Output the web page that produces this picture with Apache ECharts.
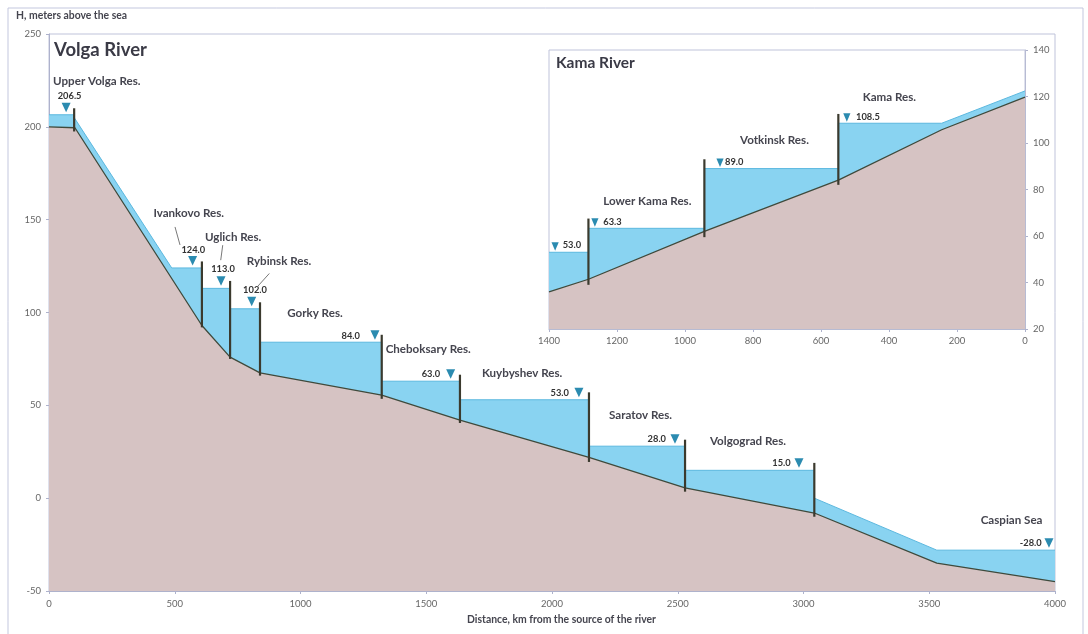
<!DOCTYPE html>
<html>
<head>
<meta charset="utf-8">
<script src="https://cdn.jsdelivr.net/npm/echarts/dist/echarts.min.js"></script>
<style>
  html, body { margin: 0; padding: 0; background: #fff; }
  #chart { width: 1088px; height: 634px; }
</style>
</head>
<body>
<div id="chart"></div>
<script>
// ---------------- DATA ----------------
// Volga river (km from source, m above sea)
const volgaBedKm   = [0, 103, 608, 720, 839, 1323, 1634, 2147, 2529, 3043, 3530, 4000];
const volgaBedH    = [200, 199.5, 93, 76, 67.5, 55.5, 42, 22, 5.5, -8, -35, -45];
const volgaWaterKm = [0, 100, 100, 488, 608, 608, 720, 720, 839, 839, 1323, 1323, 1634, 1634, 2147, 2147, 2529, 2529, 3043, 3043, 3530, 4000];
const volgaWaterH  = [206.5, 206.5, 205, 124, 124, 113, 113, 102, 102, 84, 84, 63, 63, 53, 53, 28, 28, 15, 15, 0, -28, -28];
const volgaDamKm   = [100, 608, 720, 839, 1323, 1634, 2147, 2529, 3043];
const volgaDamLow  = [197.5, 92, 75, 66, 53.5, 40.5, 19.5, 3.5, -10];
const volgaDamHigh = [210, 127.5, 117, 105.5, 88, 66.5, 57, 31.5, 19];
const volgaResNames  = ['Upper Volga Res.', 'Ivankovo Res.', 'Uglich Res.', 'Rybinsk Res.', 'Gorky Res.',
                        'Cheboksary Res.', 'Kuybyshev Res.', 'Saratov Res.', 'Volgograd Res.', 'Caspian Sea'];
const volgaResLevels = [206.5, 124.0, 113.0, 102.0, 84.0, 63.0, 53.0, 28.0, 15.0, -28.0];
const volgaMarkKm    = [68, 571, 684, 806, 1296, 1597, 2107, 2489, 2982, 3976];
const volgaXTicks = [0, 500, 1000, 1500, 2000, 2500, 3000, 3500, 4000];
const volgaYTicks = [-50, 0, 50, 100, 150, 200, 250];

// Kama river (km from mouth, m above sea)
const kamaBedKm   = [1400, 1284, 943, 549, 245, 0];
const kamaBedH    = [36, 41.4, 62, 84, 105.7, 119.7];
const kamaWaterKm = [1400, 1284, 1284, 943, 943, 549, 549, 245, 0];
const kamaWaterH  = [53, 53, 63.3, 63.3, 89, 89, 108.5, 108.5, 122.4];
const kamaDamKm   = [1284, 943, 549];
const kamaDamLow  = [39, 59.5, 82];
const kamaDamHigh = [67.5, 93, 112.5];
const kamaResNames  = ['', 'Lower Kama Res.', 'Votkinsk Res.', 'Kama Res.'];
const kamaResLevels = [53.0, 63.3, 89.0, 108.5];
const kamaMarkKm    = [1382, 1265, 897, 524];
const kamaXTicks = [0, 200, 400, 600, 800, 1000, 1200, 1400];
const kamaYTicks = [20, 40, 60, 80, 100, 120, 140];

// ---------------- LAYOUT / STYLE ----------------
const FONT = 'Lato, "Open Sans", sans-serif';
const C = {
  water: '#89d3f1', waterLine: '#5bb8df', bed: '#d6c3c3', bedLine: '#3f4a3c',
  dam: '#3b3a2e', marker: '#2b8bb0', text: '#45454f', value: '#333', axis: '#aeb2cc', tick: '#666'
};
// label offsets (px) relative to the water level point under each marker
const volgaLabelLayout = [
  { v: [3.5, -18.5, 'center'], n: [-13, -34, 'left'] },
  { v: [0.7, -17.7, 'center'], n: [-3.9, -54.4, 'center'], lead: [-17.6, -41, -12.6, -23] },
  { v: [2, -19.2, 'center'],   n: [-16, -51.5, 'left'],    lead: [1.7, -43.2, -0.3, -28.2] },
  { v: [3.3, -18.6, 'center'], n: [-5, -47.9, 'left'],     lead: [17.6, -35.3, 5.6, -22] },
  { v: [-15, -6.3, 'right'],   n: [-60, -28.7, 'center'] },
  { v: [-10.6, -7.7, 'right'], n: [-65, -31.7, 'left'] },
  { v: [-10, -6.9, 'right'],   n: [-97, -26.9, 'left'] },
  { v: [-9, -6.7, 'right'],    n: [-66, -31, 'left'] },
  { v: [-8.3, -7.3, 'right'],  n: [-89, -29, 'left'] },
  { v: [-7.3, -7.3, 'right'],  n: [-68.3, -30, 'left'] }
];
const kamaLabelLayout = [
  { v: [7.6, -7.3, 'left'] },
  { v: [8.4, -6.6, 'left'], n: [8.4, -27.3, 'left'] },
  { v: [5, -6.3, 'left'],   n: [20, -28.6, 'left'] },
  { v: [9.2, -6, 'left'],   n: [15.9, -25.5, 'left'] }
];

const zip = (a, b) => a.map((v, i) => [v, b[i]]);

function damSeries(xi, yi, km, lo, hi) {
  return {
    type: 'custom', xAxisIndex: xi, yAxisIndex: yi, z: 5, clip: false, silent: true,
    data: km.map((k, i) => [k, lo[i], hi[i]]),
    renderItem(params, api) {
      const a = api.coord([api.value(0), api.value(1)]);
      const b = api.coord([api.value(0), api.value(2)]);
      return { type: 'line', shape: { x1: a[0], y1: a[1], x2: b[0], y2: b[1] },
               style: { stroke: C.dam, lineWidth: 2.2 } };
    }
  };
}

function markerSeries(xi, yi, km, levels, names, layout, small) {
  return {
    type: 'custom', xAxisIndex: xi, yAxisIndex: yi, z: 6, clip: false, silent: true,
    data: km.map((k, i) => [k, levels[i]]),
    renderItem(params, api) {
      const i = params.dataIndex;
      const p = api.coord([api.value(0), api.value(1)]);
      const L = layout[i];
      const w = small ? 3.6 : 4.5, top = small ? 10 : 12, tip = small ? 1.5 : 2.5;
      const ch = [{
        type: 'polygon',
        shape: { points: [[p[0] - w, p[1] - top], [p[0] + w, p[1] - top], [p[0], p[1] - tip]] },
        style: { fill: C.marker }
      }, {
        type: 'text', x: p[0] + L.v[0], y: p[1] + L.v[1],
        style: { text: levels[i].toFixed(1), align: L.v[2], verticalAlign: 'middle',
                 font: 'bold 9.3px ' + FONT, fill: C.value }
      }];
      if (L.n && names[i]) {
        ch.push({ type: 'text', x: p[0] + L.n[0], y: p[1] + L.n[1],
          style: { text: names[i], align: L.n[2], verticalAlign: 'middle',
                   font: 'bold 11.6px ' + FONT, fill: C.text } });
      }
      if (L.lead) {
        ch.push({ type: 'line', shape: { x1: p[0] + L.lead[0], y1: p[1] + L.lead[1], x2: p[0] + L.lead[2], y2: p[1] + L.lead[3] },
          style: { stroke: '#555', lineWidth: 0.8 } });
      }
      return { type: 'group', children: ch };
    }
  };
}

const axisLineStyle = { lineStyle: { color: C.axis, width: 1 } };
const labelStyle = { color: C.tick, fontSize: 9.5, fontFamily: FONT, formatter: v => String(v) };

const chart = echarts.init(document.getElementById('chart'), null, { renderer: 'canvas' });
chart.setOption({
  animation: false,
  backgroundColor: '#fff',
  grid: [
    { left: 49, right: 33, top: 34, bottom: 43, show: true, borderColor: '#bfc3da', borderWidth: 1, backgroundColor: 'transparent' },
    { left: 549, right: 63, top: 50, bottom: 305, show: true, borderColor: '#bfc3da', borderWidth: 1, backgroundColor: '#fff', z: 3 }
  ],
  xAxis: [
    { type: 'value', gridIndex: 0, min: volgaXTicks[0], max: volgaXTicks[volgaXTicks.length - 1], interval: volgaXTicks[1] - volgaXTicks[0],
      axisLine: { show: true, onZero: false, ...axisLineStyle }, axisTick: { show: true, length: 3, lineStyle: { color: C.axis } },
      splitLine: { show: false }, axisLabel: { ...labelStyle, margin: 8 } },
    { type: 'value', gridIndex: 1, inverse: true, min: kamaXTicks[0], max: kamaXTicks[kamaXTicks.length - 1], interval: kamaXTicks[1] - kamaXTicks[0],
      axisLine: { show: true, onZero: false, ...axisLineStyle }, axisTick: { show: true, length: 3, lineStyle: { color: C.axis } },
      splitLine: { show: false }, axisLabel: { ...labelStyle, margin: 7 } }
  ],
  yAxis: [
    { type: 'value', gridIndex: 0, min: volgaYTicks[0], max: volgaYTicks[volgaYTicks.length - 1], interval: volgaYTicks[1] - volgaYTicks[0],
      axisLine: { show: true, onZero: false, ...axisLineStyle }, axisTick: { show: true, length: 3, lineStyle: { color: C.axis } },
      splitLine: { show: false }, axisLabel: { ...labelStyle, margin: 8 } },
    { type: 'value', gridIndex: 1, position: 'right', min: kamaYTicks[0], max: kamaYTicks[kamaYTicks.length - 1], interval: kamaYTicks[1] - kamaYTicks[0],
      axisLine: { show: true, onZero: false, ...axisLineStyle }, axisTick: { show: true, length: 3, lineStyle: { color: C.axis } },
      splitLine: { show: false }, axisLabel: { ...labelStyle, margin: 8 } }
  ],
  graphic: [
    { type: 'rect', shape: { x: 8, y: 8, width: 1075, height: 640 }, style: { fill: 'none', stroke: '#c3c7de', lineWidth: 1 }, silent: true, z: -1 },
    { type: 'text', left: 16, top: 11, style: { text: 'H, meters above the sea', font: 'bold 10.4px ' + FONT, fill: C.text } },
    { type: 'text', left: 467, top: 615, style: { text: 'Distance, km from the source of the river', font: 'bold 10.4px ' + FONT, fill: C.text } },
    { type: 'text', left: 54, top: 41, style: { text: 'Volga River', font: 'bold 18.5px ' + FONT, fill: '#3a3a46' } },
    { type: 'text', left: 556, top: 55, z: 10, style: { text: 'Kama River', font: 'bold 15.5px ' + FONT, fill: '#3a3a46' } }
  ],
  series: [
    { type: 'line', xAxisIndex: 0, yAxisIndex: 0, data: zip(volgaWaterKm, volgaWaterH), showSymbol: false, z: 2,
      lineStyle: { color: C.waterLine, width: 1 }, areaStyle: { color: C.water, opacity: 1, origin: 'start' } },
    { type: 'line', xAxisIndex: 0, yAxisIndex: 0, data: zip(volgaBedKm, volgaBedH), showSymbol: false, z: 3,
      lineStyle: { color: C.bedLine, width: 1.3 }, areaStyle: { color: C.bed, opacity: 1, origin: 'start' } },
    damSeries(0, 0, volgaDamKm, volgaDamLow, volgaDamHigh),
    markerSeries(0, 0, volgaMarkKm, volgaResLevels, volgaResNames, volgaLabelLayout, false),
    { type: 'line', xAxisIndex: 1, yAxisIndex: 1, data: zip(kamaWaterKm, kamaWaterH), showSymbol: false, z: 4,
      lineStyle: { color: C.waterLine, width: 1 }, areaStyle: { color: C.water, opacity: 1, origin: 'start' } },
    { type: 'line', xAxisIndex: 1, yAxisIndex: 1, data: zip(kamaBedKm, kamaBedH), showSymbol: false, z: 4,
      lineStyle: { color: C.bedLine, width: 1.3 }, areaStyle: { color: C.bed, opacity: 1, origin: 'start' } },
    damSeries(1, 1, kamaDamKm, kamaDamLow, kamaDamHigh),
    markerSeries(1, 1, kamaMarkKm, kamaResLevels, kamaResNames, kamaLabelLayout, true)
  ]
});
</script>
</body>
</html>
